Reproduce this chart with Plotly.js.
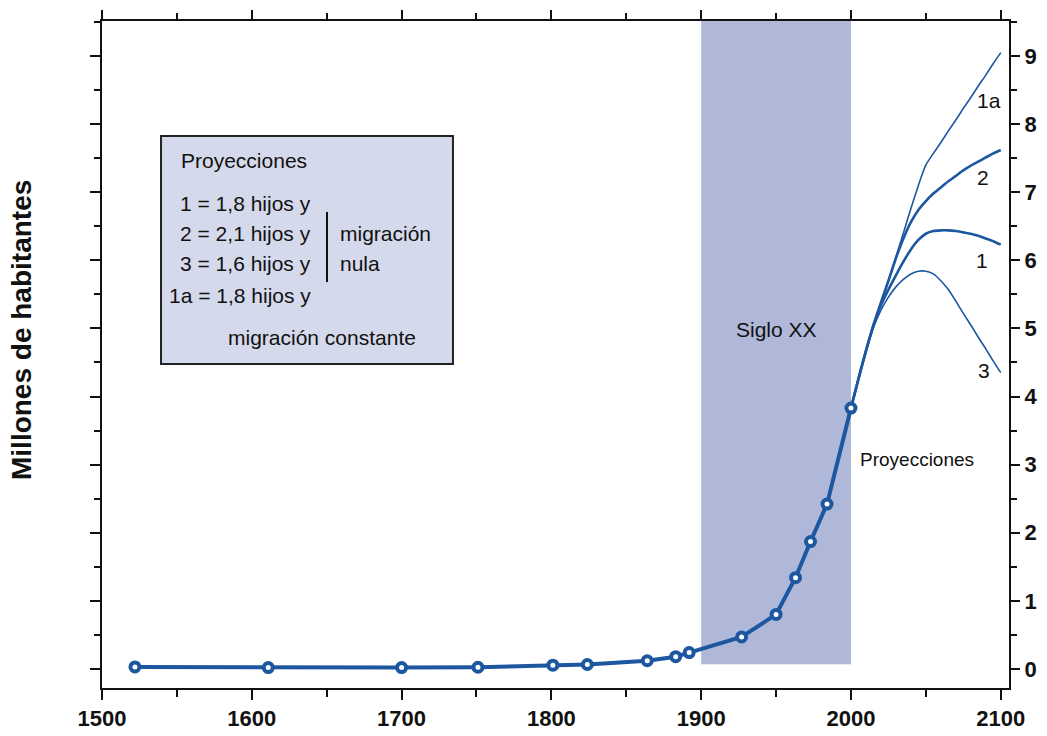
<!DOCTYPE html>
<html>
<head>
<meta charset="utf-8">
<script src="https://cdn.plot.ly/plotly-3.0.1.min.js"></script>
<style>html,body{margin:0;padding:0;background:#fff;}#chart{width:1047px;height:736px;}</style>
</head>
<body>
<div id="chart"></div>
<script>
// ---- Data ----
const histYears = [1522, 1611, 1700, 1751, 1801, 1824, 1864, 1883, 1892, 1927, 1950, 1963, 1973, 1984, 2000];
const histPop   = [0.03, 0.02, 0.02, 0.025, 0.055, 0.065, 0.12, 0.18, 0.24, 0.47, 0.80, 1.34, 1.87, 2.42, 3.83];

const projYears = [2000, 2005, 2010, 2015, 2020, 2025, 2030, 2035, 2040, 2045, 2050, 2055, 2060, 2065, 2070, 2075, 2080, 2085, 2090, 2095, 2100];
const proj1a = [3.83, 4.26, 4.67, 5.05, 5.38, 5.70, 6.05, 6.40, 6.76, 7.10, 7.40, 7.57, 7.73, 7.90, 8.06, 8.23, 8.39, 8.56, 8.72, 8.89, 9.05];
const proj2  = [3.83, 4.26, 4.67, 5.05, 5.38, 5.70, 6.03, 6.32, 6.56, 6.74, 6.87, 6.98, 7.07, 7.16, 7.24, 7.32, 7.39, 7.45, 7.51, 7.57, 7.62];
const proj1  = [3.83, 4.26, 4.67, 5.04, 5.34, 5.57, 5.78, 5.98, 6.16, 6.30, 6.39, 6.43, 6.44, 6.44, 6.43, 6.41, 6.39, 6.36, 6.32, 6.28, 6.23];
const proj3  = [3.83, 4.26, 4.66, 5.01, 5.27, 5.46, 5.61, 5.72, 5.80, 5.84, 5.84, 5.80, 5.70, 5.57, 5.40, 5.22, 5.05, 4.87, 4.70, 4.52, 4.35];

const centuryBand = [1900, 2000];
const xTickVals = [1500, 1600, 1700, 1800, 1900, 2000, 2100];
const yTickVals = [0, 1, 2, 3, 4, 5, 6, 7, 8, 9];

const yTitle = 'Millones de habitantes';
const legendTitle = 'Proyecciones';
const legendLeft = ['1 = 1,8 hijos y', '2 = 2,1 hijos y', '3 = 1,6 hijos y', '1a = 1,8 hijos y'];
const legendRight = ['migración', 'nula'];
const legendFoot = 'migración constante';
const projLabels = ['1a', '2', '1', '3'];

// ---- Styles / positions ----
const BLUE = '#1c57a0';
const FONT = 'Liberation Sans, Arial, Helvetica, sans-serif';
const xRange = [1500, 2105.5];
const yRange = [-0.28, 9.514];

const projStyle = [
  {y: proj1a, w: 1.6}, {y: proj2, w: 2.6}, {y: proj1, w: 2.6}, {y: proj3, w: 1.6}
];

const traces = [];
projStyle.forEach(p => {
  traces.push({x: projYears, y: p.y, type: 'scatter', mode: 'lines',
    line: {color: BLUE, width: p.w, shape: 'spline', smoothing: 0.6},
    hoverinfo: 'skip', showlegend: false});
});
traces.push({x: histYears, y: histPop, type: 'scatter', mode: 'lines+markers',
  line: {color: BLUE, width: 4},
  marker: {symbol: 'circle', size: 9, color: '#ffffff', line: {color: BLUE, width: 4}},
  showlegend: false});
traces.push({x: [null], y: [null], xaxis: 'x2', yaxis: 'y2', type: 'scatter', mode: 'markers', showlegend: false, hoverinfo: 'skip'});

const labelPos = [
  {x: 2092, y: 8.34}, {x: 2088.3, y: 7.22}, {x: 2087.7, y: 6.0}, {x: 2088.8, y: 4.38}
];

const annotations = [];
annotations.push({x: -0.088, y: 0.537, xref: 'paper', yref: 'paper', text: yTitle, textangle: -90, showarrow: false, xanchor: 'center', yanchor: 'middle', font: {family: FONT, size: 28, color: '#111', weight: 'bold'}});
annotations.push({x: 1551.5, y: 7.46, xref: 'x', yref: 'y', text: legendTitle, showarrow: false, xanchor: 'left', yanchor: 'middle', font: {family: FONT, size: 21, color: '#111'}});
const legYs = [6.83, 6.40, 5.95, 5.49];
legendLeft.forEach((t, i) => annotations.push({x: 1641, y: legYs[i], xref: 'x', yref: 'y', text: t, showarrow: false, xanchor: 'right', yanchor: 'middle', font: {family: FONT, size: 21, color: '#111'}}));
legendRight.forEach((t, i) => annotations.push({x: 1657.5, y: legYs[i + 1], xref: 'x', yref: 'y', text: t, showarrow: false, xanchor: 'left', yanchor: 'middle', font: {family: FONT, size: 21, color: '#111'}}));
annotations.push({x: 1647, y: 4.87, xref: 'x', yref: 'y', text: legendFoot, showarrow: false, xanchor: 'center', yanchor: 'middle', font: {family: FONT, size: 21, color: '#111'}});
annotations.push({x: 1950, y: 4.98, xref: 'x', yref: 'y', text: 'Siglo XX', showarrow: false, xanchor: 'center', yanchor: 'middle', font: {family: FONT, size: 21, color: '#111'}});
annotations.push({x: 2044.4, y: 3.08, xref: 'x', yref: 'y', text: 'Proyecciones', showarrow: false, xanchor: 'center', yanchor: 'middle', font: {family: FONT, size: 19, color: '#111'}});
projLabels.forEach((t, i) => annotations.push({x: labelPos[i].x, y: labelPos[i].y, xref: 'x', yref: 'y', text: t, showarrow: false, xanchor: 'center', yanchor: 'middle', font: {family: FONT, size: 21, color: '#111'}}));

const shapes = [
  {type: 'rect', xref: 'x', yref: 'y', x0: centuryBand[0], x1: centuryBand[1], y0: 0.07, y1: yRange[1], fillcolor: '#b0b8d9', line: {width: 0}, layer: 'below'},
  {type: 'rect', xref: 'x', yref: 'y', x0: 1539.4, x1: 1734.3, y0: 4.478, y1: 7.826, fillcolor: '#d5d9ec', line: {color: '#222', width: 2}, layer: 'below'},
  {type: 'line', xref: 'x', yref: 'y', x0: 1650.2, x1: 1650.2, y0: 5.68, y1: 6.71, line: {color: '#111', width: 2}}
];

const tickCommon = {ticks: 'outside', tickwidth: 2, tickcolor: '#111', showline: true, linecolor: '#111', linewidth: 2, showgrid: false, zeroline: false};

const layout = {
  width: 1047, height: 736,
  margin: {l: 102, r: 38, t: 21, b: 48},
  paper_bgcolor: '#ffffff', plot_bgcolor: '#ffffff',
  showlegend: false,
  xaxis: Object.assign({}, tickCommon, {range: xRange, tickvals: xTickVals, ticklen: 10,
    minor: {ticks: 'outside', dtick: 50, tick0: 1500, ticklen: 7, tickwidth: 2, tickcolor: '#111'},
    tickfont: {family: FONT, size: 22, color: '#111', weight: 'bold'}}),
  xaxis2: Object.assign({}, tickCommon, {overlaying: 'x', side: 'top', anchor: 'y2', range: xRange, tickvals: xTickVals, ticklen: 9, showticklabels: false,
    minor: {ticks: 'outside', dtick: 50, tick0: 1500, ticklen: 6, tickwidth: 2, tickcolor: '#111'}}),
  yaxis: Object.assign({}, tickCommon, {side: 'right', range: yRange, tickvals: yTickVals, ticklen: 9,
    minor: {ticks: 'outside', dtick: 0.5, tick0: 0, ticklen: 6, tickwidth: 2, tickcolor: '#111'},
    tickfont: {family: FONT, size: 22, color: '#111', weight: 'bold'}}),
  yaxis2: Object.assign({}, tickCommon, {overlaying: 'y', side: 'left', anchor: 'x2', range: yRange, tickvals: yTickVals, ticklen: 10, showticklabels: false,
    minor: {ticks: 'outside', dtick: 0.5, tick0: 0, ticklen: 6, tickwidth: 2, tickcolor: '#111'}}),
  annotations: annotations,
  shapes: shapes
};

Plotly.newPlot('chart', traces, layout, {staticPlot: true, displayModeBar: false});
</script>
</body>
</html>
